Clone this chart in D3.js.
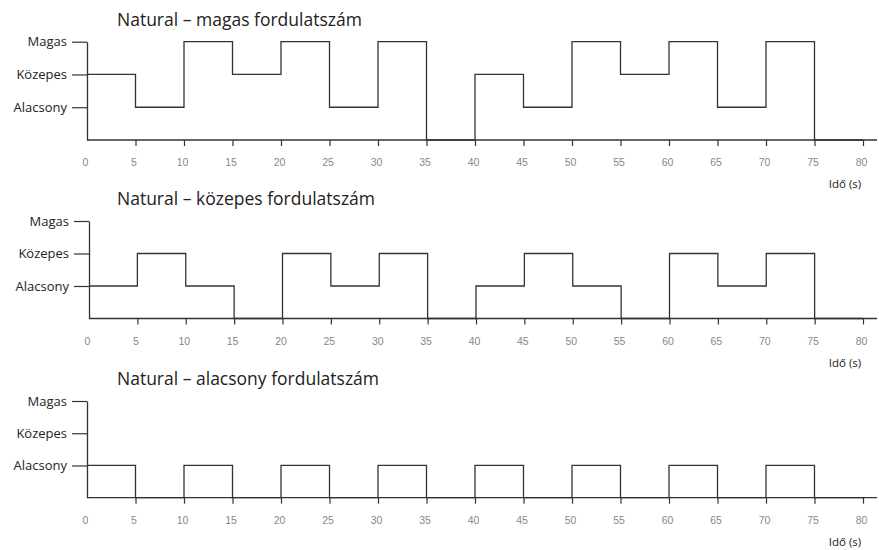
<!DOCTYPE html>
<html>
<head>
<meta charset="utf-8">
<script src="https://cdn.jsdelivr.net/npm/d3@7"></script>
<style>
  body { margin: 0; background: #fff; }
  .tick text.xl { font-family: "Liberation Sans", Arial, sans-serif; }
</style>
</head>
<body>
<svg id="chart" width="879" height="550"></svg>
<script>
(function() {

  // levels: 0 = off, 1 = Alacsony, 2 = Közepes, 3 = Magas
  var levels = ["", "Alacsony", "Közepes", "Magas"];
  var times = [0, 5, 10, 15, 20, 25, 30, 35, 40, 45, 50, 55, 60, 65, 70, 75, 80];
  var xTicks = [0, 5, 10, 15, 20, 25, 30, 35, 40, 45, 50, 55, 60, 65, 70, 75, 80];

  var titles = [
    "Natural – magas fordulatszám",
    "Natural – közepes fordulatszám",
    "Natural – alacsony fordulatszám"
  ];

  // one value per 5 s interval (last value repeated for the end point)
  var magas    = [2, 1, 3, 2, 3, 1, 3, 0, 2, 1, 3, 2, 3, 1, 3, 0, 0];
  var kozepes  = [1, 2, 1, 0, 2, 1, 2, 0, 1, 2, 1, 0, 2, 1, 2, 0, 0];
  var alacsony = [1, 0, 1, 0, 1, 0, 1, 0, 1, 0, 1, 0, 1, 0, 1, 0, 0];

  var series = [magas, kozepes, alacsony];

  // panel layout
  var panels = [
    {base : 140, top : 41.7, x0 : 87},
    {base : 318.5, top : 221, x0 : 89},
    {base : 497.7, top : 401, x0 : 87}
  ];

  var svg = d3.select("#chart");
  var ink = "#333";

  panels.forEach(function(p, i) {
    var g = svg.append("g");

    var x = d3.scaleLinear().domain([0, 80]).range([p.x0, 863]);
    var y = d3.scaleLinear().domain([0, 3]).range([p.base, p.top]);

    // title
    g.append("text")
      .attr("x", 117)
      .attr("y", p.top - 16)
      .attr("font-family", "'Open Sans', 'Noto Sans', sans-serif")
      .attr("font-size", 17.5)
      .attr("fill", "#222")
      .text(titles[i]);

    // x axis
    var xAxis = d3.axisBottom(x)
      .tickValues(xTicks)
      .tickSize(6)
      .tickSizeOuter(0)
      .tickPadding(13);

    var xg = g.append("g")
      .attr("transform", "translate(0," + p.base + ")")
      .call(xAxis);
    xg.select(".domain").remove();
    xg.selectAll(".tick line").attr("stroke", ink).attr("stroke-width", 1.2)
      .filter(d => d === 0).remove();
    xg.selectAll(".tick text")
      .attr("class", "xl")
      .attr("font-size", 10.5)
      .attr("fill", "#888")
      .attr("dx", -2);

    g.append("line")
      .attr("x1", p.x0).attr("x2", 877)
      .attr("y1", p.base).attr("y2", p.base)
      .attr("stroke", ink).attr("stroke-width", 1.3);

    g.append("text")
      .attr("x", 845)
      .attr("y", p.base + 48)
      .attr("text-anchor", "middle")
      .attr("font-family", "'Open Sans', 'Noto Sans', sans-serif")
      .attr("font-size", 11.5)
      .attr("fill", "#222")
      .text("Idő (s)");

    // y axis
    var yAxis = d3.axisLeft(y)
      .tickValues([1, 2, 3])
      .tickFormat(d => levels[d])
      .tickSize(15)
      .tickSizeOuter(0)
      .tickPadding(5);

    var yg = g.append("g")
      .attr("transform", "translate(" + p.x0 + ",0)")
      .call(yAxis);
    yg.select(".domain").attr("stroke", ink).attr("stroke-width", 1.3);
    yg.selectAll(".tick line").attr("stroke", ink).attr("stroke-width", 1.2);
    yg.selectAll(".tick text")
      .attr("font-family", "'Open Sans', 'Noto Sans', sans-serif")
      .attr("font-size", 13)
      .attr("fill", "#222");

    // step line
    var line = d3.line()
      .x((d, j) => x(times[j]))
      .y(d => y(d))
      .curve(d3.curveStepAfter);

    g.append("path")
      .datum(series[i])
      .attr("d", line)
      .attr("fill", "none")
      .attr("stroke", ink)
      .attr("stroke-width", 1.3);
  });

})();
</script>
</body>
</html>
